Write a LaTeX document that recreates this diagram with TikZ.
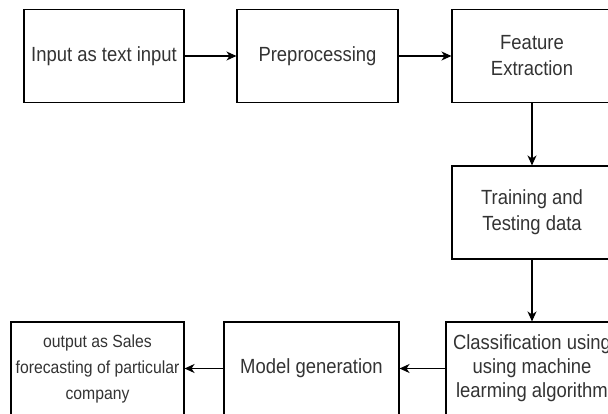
\documentclass[tikz,border=0pt]{standalone}
\usepackage{fontspec}
\setmainfont{Liberation Sans}
\newfontfamily\narrowsans[FakeStretch=0.9]{Liberation Sans}
\usepackage{tikz}
\usetikzlibrary{positioning, shapes, arrows.meta}

\tikzset{
  procbox/.style={draw=black, line width=1.1pt, rectangle, align=center,
    text=black!80, minimum height=93pt, inner sep=2pt,
    font=\narrowsans\fontsize{20.5}{26}\selectfont},
  flowarrow/.style={draw=black, line width=1.1pt, -{Stealth[length=10pt,width=9pt,inset=3pt]}}
}

\begin{document}
\begin{tikzpicture}[x=1pt, y=-1pt]
    \useasboundingbox (0,0) rectangle (608,414);
    \clip (0,0) rectangle (608,414);
    % top row
    \node [procbox, minimum width=160pt] (input) at (104,56) {Input as text input};
    \node [procbox, minimum width=161pt] (preproc) at (317.5,56) {Preprocessing};
    \node [procbox, minimum width=160pt] (feature) at (532,56) {Feature\\Extraction};
    % right column
    \node [procbox, minimum width=160pt] (traintest) at (532,212.5) {Training and\\Testing data};
    % bottom row
    \node [procbox, minimum width=172pt, font=\narrowsans\fontsize{20.5}{24}\selectfont] (classify) at (532,368.5) {Classification using\\using machine\\learming algorithm};
    \node [procbox, minimum width=175pt] (modelgen) at (311.5,368.5) {Model generation};
    \node [procbox, minimum width=173pt, inner sep=0pt, font=\narrowsans\fontsize{17.5}{26}\selectfont] (output) at (97.5,368.5) {output as Sales\\forecasting of particular\\company};
    % connectors
    \draw [flowarrow] (input) -- (preproc);
    \draw [flowarrow] (preproc) -- (feature);
    \draw [flowarrow] (feature) -- (traintest);
    \draw [flowarrow] (traintest) -- (classify);
    \draw [flowarrow] (classify) -- (modelgen);
    \draw [flowarrow] (modelgen) -- (output);
  \end{tikzpicture}
\end{document}
